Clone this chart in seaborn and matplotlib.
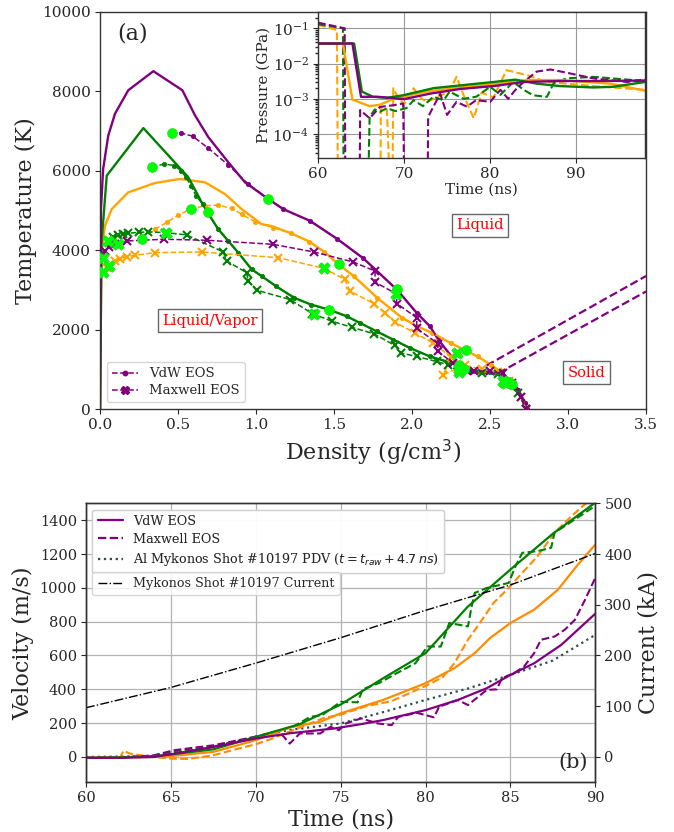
import numpy as np
import matplotlib
matplotlib.use("Agg")
import matplotlib.pyplot as plt
from matplotlib.lines import Line2D
import seaborn as sns

# ---------------- Panel (a): temperature vs density ----------------
# shared tails (solid lines and VdW dotted lines coincide here)
pur_tail_d = [1.175, 1.346, 1.517, 1.688, 1.902, 2.03, 2.115, 2.169, 2.286, 2.372, 2.45, 2.564, 2.628, 2.682, 2.724, 2.735]
pur_tail_T = [5035, 4739, 4293, 3795, 3011, 2421, 2082, 1746, 1156, 944, 930, 903, 734, 481, 144, 0]
grn_tail_d = [0.758, 0.822, 0.886, 0.972, 1.036, 1.128, 1.245, 1.352, 1.466, 1.581, 1.666, 1.773, 1.88, 1.987, 2.115, 2.222, 2.308, 2.40, 2.50, 2.564, 2.628, 2.682, 2.724, 2.735]
grn_tail_T = [4529, 4233, 3939, 3517, 3347, 3094, 2800, 2631, 2505, 2336, 2168, 1956, 1746, 1536, 1323, 1197, 1070, 960, 930, 903, 734, 481, 144, 0]
org_tail_d = [1.224, 1.342, 1.438, 1.53, 1.627, 1.777, 1.937, 2.033, 2.13, 2.247, 2.344, 2.42, 2.506, 2.567, 2.635, 2.68, 2.72, 2.735]
org_tail_T = [4428, 4217, 3955, 3643, 3347, 2800, 2295, 2082, 1915, 1662, 1475, 1323, 1113, 944, 700, 450, 150, 0]

# solid (no marker) heads
pur_sol_d = [0.0, 0.006, 0.02, 0.053, 0.096, 0.181, 0.342, 0.528, 0.609, 0.694, 0.822, 0.929, 1.079]
pur_sol_T = [0, 5035, 6047, 6889, 7438, 8028, 8509, 8028, 7395, 6849, 6216, 5710, 5288]
grn_sol_d = [0.0, 0.01, 0.043, 0.278, 0.566, 0.652, 0.689]
grn_sol_T = [0, 4200, 5878, 7076, 5836, 5204, 4951]
org_sol_d = [0.0, 0.008, 0.015, 0.032, 0.075, 0.181, 0.353, 0.513, 0.673, 0.801, 0.908, 1.036, 1.096]
org_sol_T = [0, 3500, 4107, 4613, 5035, 5457, 5693, 5794, 5710, 5414, 5035, 4655, 4613]

# VdW EOS (dashed, dot markers) heads
pur_vdw_d = [0.459, 0.52, 0.593, 0.694, 0.822, 0.95, 1.079]
pur_vdw_T = [6958, 6950, 6873, 6570, 6148, 5667, 5288]
grn_vdw_d = [0.331, 0.412, 0.476, 0.519, 0.551, 0.583, 0.615, 0.657, 0.689]
grn_vdw_T = [6090, 6173, 6131, 6004, 5836, 5624, 5372, 5161, 4951]
org_vdw_d = [0.267, 0.353, 0.427, 0.501, 0.58, 0.673, 0.758, 0.843, 0.908, 0.993, 1.107]
org_vdw_T = [4276, 4529, 4698, 4883, 5035, 5118, 5136, 5052, 4908, 4714, 4571]

# Maxwell EOS (dashed, x markers)
pur_max_d = [0.021, 0.032, 0.06, 0.096, 0.117, 0.171, 0.41, 0.684, 1.107, 1.372, 1.624, 1.763, 1.763, 1.90, 1.902, 2.03, 2.03, 2.165, 2.165, 2.265, 2.30, 2.40, 2.50, 2.58, 2.64, 2.70, 2.73]
pur_max_T = [3812, 3980, 4080, 4149, 4167, 4233, 4276, 4250, 4149, 3955, 3702, 3474, 3196, 2900, 2657, 2300, 2030, 1650, 1450, 1156, 1000, 960, 950, 900, 650, 300, 0]
grn_max_d = [0.053, 0.08, 0.117, 0.15, 0.181, 0.25, 0.31, 0.417, 0.556, 0.79, 0.812, 0.94, 0.95, 1.004, 1.218, 1.36, 1.488, 1.616, 1.754, 1.891, 1.93, 2.03, 2.158, 2.233, 2.30, 2.447, 2.55, 2.6, 2.68, 2.73]
grn_max_T = [4233, 4320, 4377, 4410, 4428, 4450, 4461, 4445, 4385, 3955, 3727, 3433, 3221, 2993, 2758, 2404, 2209, 2057, 1897, 1600, 1409, 1323, 1197, 1113, 944, 903, 880, 666, 400, 0]
org_max_d = [0.021, 0.043, 0.06, 0.096, 0.13, 0.171, 0.224, 0.353, 0.651, 1.142, 1.436, 1.57, 1.603, 1.754, 1.827, 1.891, 2.019, 2.136, 2.25, 2.20, 2.34, 2.45, 2.55, 2.62, 2.70, 2.73]
org_max_T = [3449, 3559, 3600, 3727, 3790, 3837, 3871, 3939, 3955, 3812, 3542, 3264, 2968, 2657, 2421, 2184, 1915, 1662, 1300, 860, 1100, 1000, 920, 700, 300, 0]

# time-stamp markers (lime)
pur_circ_d = [0.459, 1.079, 1.902, 2.335, 2.635]
pur_circ_T = [6958, 5288, 3011, 1004, 632]
grn_circ_d = [0.331, 0.689, 1.466, 2.30, 2.64]
grn_circ_T = [6090, 4951, 2505, 1096, 640]
org_circ_d = [0.267, 0.58, 1.53, 2.344, 2.62]
org_circ_T = [4276, 5035, 3643, 1475, 670]
pur_x_d = [0.021, 0.117, 1.90, 2.29, 2.60]
pur_x_T = [3812, 4149, 2900, 1409, 666]
grn_x_d = [0.053, 0.423, 1.37, 2.30, 2.58]
grn_x_T = [4233, 4445, 2404, 944, 700]
org_x_d = [0.021, 0.06, 1.436, 2.30, 2.59]
org_x_T = [3449, 3600, 3542, 1000, 690]

# two purple dashed boundary lines into the solid region
bnd1_d = [2.478, 3.5]
bnd1_T = [1096, 3350]
bnd2_d = [2.553, 3.5]
bnd2_T = [903, 2960]

# ---------------- Inset: pressure vs time ----------------
pur_p_sol_t = [60, 64, 65, 67, 70, 73, 76.5, 80.4, 83.9, 88.1, 92, 98]
pur_p_sol_P = [0.037, 0.037, 0.00114, 0.00114, 0.00098, 0.0014, 0.0019, 0.0023, 0.003, 0.0032, 0.0032, 0.0033]
grn_p_sol_t = [60, 64.2, 65.1, 66.4, 68, 69.9, 73.4, 76.5, 80.4, 82.9, 85.4, 88.1, 92, 94.3, 98]
grn_p_sol_P = [0.037, 0.037, 0.0016, 0.00114, 0.00107, 0.00126, 0.002, 0.0024, 0.003, 0.0035, 0.0027, 0.0023, 0.0021, 0.0022, 0.003]
org_p_sol_t = [60, 62.9, 64.0, 66, 67.2, 68.8, 72.6, 76.5, 80.4, 84.3, 88.1, 94, 98]
org_p_sol_P = [0.037, 0.037, 0.00095, 0.00062, 0.00068, 0.001, 0.0016, 0.0021, 0.0026, 0.0034, 0.0034, 0.0027, 0.0017]
pur_p_max_t = [60, 63.1, 63.2, 64.8, 64.9, 66, 67.2, 68.8, 69.9, 70.1, 72.7, 72.8, 74.2, 75, 76.1, 77.3, 78.4, 80, 81.2, 82.1, 83.1, 83.9, 85.4, 87, 88.9, 92, 95.9, 98]
pur_p_max_P = [0.145, 0.1, 1e-7, 1e-7, 0.00048, 0.00028, 0.00059, 0.00066, 0.00074, 1e-7, 1e-7, 0.00031, 0.0014, 0.00035, 0.00082, 0.0006, 0.00092, 0.00082, 0.0018, 0.001, 0.002, 0.003, 0.0059, 0.0068, 0.0055, 0.0038, 0.003, 0.0035]
org_p_max_t = [60, 62.2, 62.35, 67.25, 67.3, 68.0, 68.6, 68.75, 69.3, 70.0, 71.1, 71.9, 72.6, 73.4, 74.4, 75.2, 76.1, 76.9, 78.1, 79.0, 80.4, 81.9, 84.3, 86.6, 88.1, 92, 98]
org_p_max_P = [0.126, 0.089, 1e-7, 1e-7, 0.00055, 0.0005, 1e-7, 0.002, 0.0011, 0.0007, 0.002, 0.0011, 0.0008, 0.001, 0.0013, 0.0015, 0.0042, 0.0013, 0.00028, 0.0015, 0.0011, 0.0065, 0.0047, 0.003, 0.0028, 0.0023, 0.0018]
grn_p_max_t = [60, 62.9, 63.0, 65.7, 66.0, 66.6, 67.2, 68.0, 69.0, 70.3, 71.1, 72.2, 73.4, 74.6, 75.3, 76.9, 78.4, 80.0, 81.2, 82.7, 83.9, 85.0, 86.6, 87.4, 88.9, 92, 98]
grn_p_max_P = [0.13, 0.1, 1e-7, 1e-7, 0.00031, 0.0005, 0.00043, 0.00054, 0.00045, 0.00055, 0.00091, 0.00062, 0.00115, 0.00091, 0.0016, 0.001, 0.00115, 0.0022, 0.0013, 0.003, 0.0018, 0.00126, 0.00114, 0.0028, 0.0038, 0.0042, 0.0032]

# ---------------- Panel (b): velocity vs time ----------------
cur_t = [60, 65, 70, 75, 80, 85, 90]
cur_I = [97, 137, 185, 235, 289, 339, 401]
pdv_t = [60, 64, 67, 70, 72, 75, 77.5, 80, 82.5, 85, 87.5, 90]
pdv_V = [0, 5, 50, 120, 160, 198, 265, 337, 405, 485, 570, 722]
grn_v_t = [60, 62, 64, 65, 67.5, 70, 72.6, 75, 77.5, 80, 82.5, 85, 87.5, 90]
grn_v_V = [-5, -3, 5, 15, 45, 119, 194, 310, 465, 614, 890, 1108, 1320, 1504]
grn_vm_t = [60, 62, 64, 65, 67.5, 70, 72.2, 73.2, 73.9, 75, 76, 76.3, 77.3, 78.3, 79.4, 79.7, 80.1, 80.9, 81.4, 82.5, 82.7, 82.9, 83.6, 84.9, 85.3, 85.7, 86.6, 87.4, 87.6, 88.8, 90]
grn_vm_V = [-5, -3, 5, 30, 59, 119, 178, 237, 247, 326, 323, 400, 439, 495, 554, 594, 653, 653, 792, 772, 881, 970, 999, 1029, 1128, 1207, 1217, 1237, 1326, 1405, 1485]
org_v_t = [60, 62, 64, 65, 67.5, 70, 72, 73.8, 75, 77.5, 80, 81.7, 82.9, 83.8, 85, 86.4, 87.8, 88.9, 90]
org_v_V = [-5, -3, 0, 5, 30, 99, 175, 208, 258, 337, 436, 525, 614, 703, 792, 871, 989, 1128, 1256]
org_vm_t = [60, 62.0, 62.2, 62.6, 63.5, 65, 66, 67.5, 69, 70, 71, 72, 73, 74, 75, 76.5, 78, 80, 81, 81.7, 82.5, 83.2, 84, 84.8, 85.6, 86.6, 87.6, 88.6, 89.5, 90]
org_vm_V = [-5, -5, 36, 20, 5, -10, -12, 10, 50, 75, 110, 150, 190, 230, 250, 300, 330, 420, 470, 554, 693, 792, 910, 989, 1078, 1187, 1326, 1424, 1504, 1560]
pur_v_t = [60, 62, 64, 65, 67.5, 70, 72, 74.6, 76.2, 77.5, 80, 81.9, 83.6, 85, 86.4, 88, 90]
pur_v_V = [-5, -5, 0, 16, 59, 109, 140, 168, 194, 218, 277, 337, 406, 485, 554, 663, 847]
pur_vm_t = [60, 62, 64, 65.2, 67.5, 69.9, 71.4, 72, 72.6, 73.8, 74.4, 74.9, 75.3, 76.2, 77.2, 78, 78.4, 79.5, 80.5, 80.8, 81.9, 82.5, 83.6, 84.2, 84.5, 85.2, 85.8, 86.4, 86.8, 87.6, 88.2, 88.8, 89.4, 90]
pur_vm_V = [-5, -5, 10, 40, 69, 118, 148, 79, 139, 139, 178, 158, 198, 228, 198, 188, 237, 261, 234, 297, 337, 307, 396, 400, 465, 495, 534, 614, 693, 712, 752, 811, 930, 1059]

# ---------------- styling ----------------
sns.set_theme(style="ticks")
plt.rcParams.update({
    "font.family": ["DejaVu Serif"],
    "mathtext.fontset": "dejavusans",
    "axes.edgecolor": "0.2",
    "axes.linewidth": 1.0,
    "xtick.major.size": 3.5, "ytick.major.size": 3.5,
    "xtick.minor.size": 2.0, "ytick.minor.size": 2.0,
    "xtick.major.pad": 3.0, "ytick.major.pad": 3.0,
    "xtick.major.width": 0.8, "ytick.major.width": 0.8,
    "axes.labelpad": 4.0,
})

PUR, GRN, ORG, ORG2 = "purple", "green", "orange", "darkorange"


def line(ax, x, y, color, ls="-", lw=1.6, marker=None, ms=4, mew=1.0, z=2):
    kw = dict(x=np.asarray(x, float), y=np.asarray(y, float), ax=ax, color=color,
              linestyle=ls, linewidth=lw, sort=False, estimator=None, zorder=z)
    if marker is not None:
        kw.update(marker=marker, markersize=ms, markeredgecolor=color,
                  markeredgewidth=mew, markerfacecolor=color)
    sns.lineplot(**kw)


def pts(ax, x, y, marker, s):
    sns.scatterplot(x=np.asarray(x, float), y=np.asarray(y, float), ax=ax, color="lime",
                    marker=marker, s=s, edgecolor="#22dd22", linewidth=0.5, zorder=6)


fig = plt.figure(figsize=(6.74, 8.32), dpi=100)
axa = fig.add_axes([0.1484, 0.5084, 0.8101, 0.4772])

for c, sd, sT, td, tT in [(ORG, org_sol_d, org_sol_T, org_tail_d, org_tail_T),
                          (GRN, grn_sol_d, grn_sol_T, grn_tail_d, grn_tail_T),
                          (PUR, pur_sol_d, pur_sol_T, pur_tail_d, pur_tail_T)]:
    line(axa, sd + td, sT + tT, c, "-", 1.7)
for c, vd, vT, td, tT in [(ORG, org_vdw_d, org_vdw_T, org_tail_d, org_tail_T),
                          (GRN, grn_vdw_d, grn_vdw_T, grn_tail_d, grn_tail_T),
                          (PUR, pur_vdw_d, pur_vdw_T, pur_tail_d, pur_tail_T)]:
    line(axa, vd + td, vT + tT, c, "--", 1.1, marker="o", ms=3.2, mew=0.5, z=3)
for c, md, mT in [(ORG, org_max_d, org_max_T), (GRN, grn_max_d, grn_max_T), (PUR, pur_max_d, pur_max_T)]:
    line(axa, md, mT, c, "--", 1.1, marker="x", ms=5.5, mew=1.5, z=3)
line(axa, bnd1_d, bnd1_T, PUR, "--", 1.6)
line(axa, bnd2_d, bnd2_T, PUR, "--", 1.6)

for xd, yT in [(pur_circ_d, pur_circ_T), (grn_circ_d, grn_circ_T), (org_circ_d, org_circ_T)]:
    pts(axa, xd, yT, "o", 50)
for xd, yT in [(pur_x_d, pur_x_T), (grn_x_d, grn_x_T), (org_x_d, org_x_T)]:
    pts(axa, xd, yT, "X", 70)

axa.set_xlim(0, 3.5)
axa.set_ylim(0, 10000)
axa.set_xticks(np.arange(0, 3.51, 0.5))
axa.set_yticks(np.arange(0, 10001, 2000))
axa.tick_params(labelsize=11)
axa.set_xlabel("Density (g/cm$^3$)", fontsize=16)
axa.set_ylabel("Temperature (K)", fontsize=16)
axa.text(0.06, 0.947, "(a)", transform=axa.transAxes, fontsize=16, ha="center", va="center")
box = dict(boxstyle="square,pad=0.3", facecolor="white", edgecolor="0.4", linewidth=1)
axa.text(2.436, 4630, "Liquid", color="red", fontsize=10.5, ha="center", va="center", bbox=box)
axa.text(0.705, 2226, "Liquid/Vapor", color="red", fontsize=10.5, ha="center", va="center", bbox=box)
axa.text(3.12, 911, "Solid", color="red", fontsize=10.5, ha="center", va="center", bbox=box)
handles = [Line2D([], [], color=PUR, ls="--", marker="o", ms=3.2, lw=1.1),
           Line2D([], [], color=PUR, ls="--", marker="X", ms=6, lw=1.1)]
axa.legend(handles, ["VdW EOS", "Maxwell EOS"], loc="lower left", fontsize=9.5, frameon=True,
           labelspacing=0.3, handlelength=2.0, borderpad=0.4)

# inset
axi = fig.add_axes([0.4718, 0.8101, 0.4852, 0.1755])
axi.set_yscale("log")
axi.grid(True, which="major", color="0.6", linewidth=0.8)
for c, tt, pp in [(ORG, org_p_max_t, org_p_max_P), (GRN, grn_p_max_t, grn_p_max_P), (PUR, pur_p_max_t, pur_p_max_P)]:
    line(axi, tt, pp, c, "--", 1.5)
for c, tt, pp in [(ORG, org_p_sol_t, org_p_sol_P), (GRN, grn_p_sol_t, grn_p_sol_P), (PUR, pur_p_sol_t, pur_p_sol_P)]:
    line(axi, tt, pp, c, "-", 1.7)
axi.set_xlim(60, 98)
axi.set_ylim(2.1e-5, 0.29)
axi.set_xticks([60, 70, 80, 90])
axi.set_yticks([1e-4, 1e-3, 1e-2, 1e-1])
axi.tick_params(labelsize=11)
axi.set_xlabel("Time (ns)", fontsize=11, labelpad=1)
axi.set_ylabel("Pressure (GPa)", fontsize=11, labelpad=1)

# panel (b)
axb = fig.add_axes([0.1276, 0.0597, 0.7556, 0.3354])
axb.grid(True, color="0.7", linewidth=0.9)
line(axb, pdv_t, pdv_V, "darkslategray", ":", 1.6, z=2)
line(axb, org_vm_t, org_vm_V, ORG2, "--", 1.5)
line(axb, grn_vm_t, grn_vm_V, GRN, "--", 1.5)
line(axb, pur_vm_t, pur_vm_V, PUR, "--", 1.5)
line(axb, org_v_t, org_v_V, ORG2, "-", 1.6)
line(axb, grn_v_t, grn_v_V, GRN, "-", 1.6)
line(axb, pur_v_t, pur_v_V, PUR, "-", 1.6)
axb.set_xlim(60, 90)
axb.set_ylim(-150, 1500)
axb.set_xticks(np.arange(60, 91, 5))
axb.set_yticks(np.arange(0, 1401, 200))
axb.tick_params(labelsize=10.5)
axb.set_xlabel("Time (ns)", fontsize=16, labelpad=2)
axb.set_ylabel("Velocity (m/s)", fontsize=16)
axb.text(88.7, -30, "(b)", fontsize=15, ha="center", va="center")
h1 = [Line2D([], [], color=PUR, ls="-", lw=1.6),
      Line2D([], [], color=PUR, ls="--", lw=1.6),
      Line2D([], [], color="darkslategray", ls=":", lw=1.6)]
leg1 = axb.legend(h1, ["VdW EOS", "Maxwell EOS", r"Al Mykonos Shot #10197 PDV ($t = t_{raw} + 4.7\,ns$)"],
                  loc="upper left", fontsize=9.2, frameon=True, labelspacing=0.4)
axb.add_artist(leg1)

axc = axb.twinx()
line(axc, cur_t, cur_I, "black", "-.", 1.0)
axc.set_ylim(-50, 500)
axc.set_yticks(np.arange(0, 501, 100))
axc.tick_params(labelsize=10.5)
axc.set_ylabel("Current (kA)", fontsize=16)
h2 = [Line2D([], [], color="black", ls="-.", lw=1.0)]
axc.legend(h2, ["Mykonos Shot #10197 Current"], loc="upper left", bbox_to_anchor=(0.0, 0.777),
           fontsize=9.2, frameon=True)

fig.savefig("out.png", dpi=100)
